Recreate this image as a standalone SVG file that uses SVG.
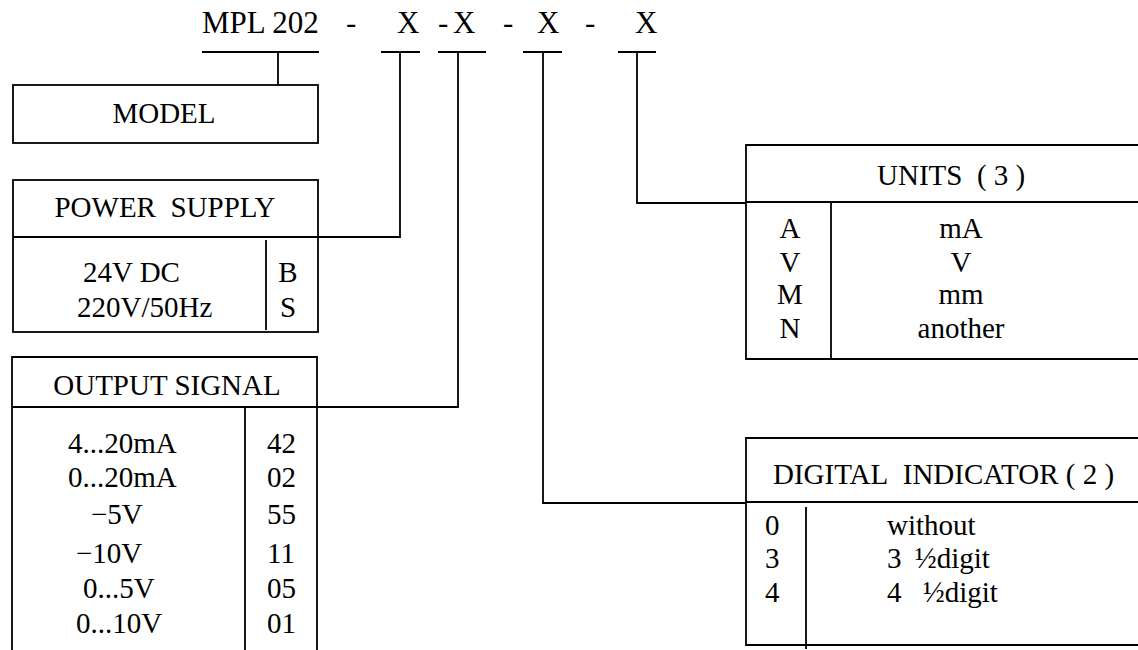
<svg xmlns="http://www.w3.org/2000/svg" width="1138" height="650" viewBox="0 0 1138 650">
<style>
text{font-family:"Liberation Serif","Times New Roman",serif;font-size:29px;fill:#000}
.t{font-size:31px}
.m{text-anchor:middle}
.s{stroke:#000;stroke-width:1.8;fill:none}
</style>
<rect width="1138" height="650" fill="#fff"/>
<g id="title">
<text class="t" x="202" y="33">MPL 202</text>
<text class="t" x="346" y="33">-</text>
<text class="t" x="397" y="33">X</text>
<text class="t" x="438" y="33">-</text>
<text class="t" x="453" y="33">X</text>
<text class="t" x="503" y="33">-</text>
<text class="t" x="537" y="33">X</text>
<text class="t" x="585" y="33">-</text>
<text class="t" x="635" y="33">X</text>
</g>
<g id="connectors" class="s">
<line x1="202" y1="52" x2="319" y2="52"/>
<line x1="381" y1="52" x2="420" y2="52"/>
<line x1="438" y1="52" x2="486" y2="52"/>
<line x1="523" y1="52" x2="562" y2="52"/>
<line x1="618" y1="52" x2="656" y2="52"/>
<line x1="278" y1="52" x2="278" y2="85"/>
<path d="M400 52 V237 H318"/>
<path d="M458 52 V407 H317"/>
<path d="M543 52 V503 H746"/>
<path d="M637 52 V203 H746"/>
</g>
<g id="model">
<rect class="s" x="13" y="85" width="305" height="58"/>
<text class="m" x="164" y="123">MODEL</text>
</g>
<g id="power-supply">
<rect class="s" x="13" y="180" width="305" height="152"/>
<line class="s" x1="13" y1="237" x2="318" y2="237"/>
<line class="s" x1="266" y1="240" x2="266" y2="330"/>
<text class="m" x="165" y="217">POWER&#160; SUPPLY</text>
<text x="83" y="282">24V DC</text>
<text x="77" y="317">220V/50Hz</text>
<text class="m" x="288" y="282">B</text>
<text class="m" x="288" y="317">S</text>
</g>
<g id="output-signal">
<path class="s" d="M12 660 V357 H317 V660"/>
<line class="s" x1="12" y1="407" x2="317" y2="407"/>
<line class="s" x1="245" y1="407" x2="245" y2="660"/>
<text class="m" x="167" y="395">OUTPUT SIGNAL</text>
<text x="68" y="453">4...20mA</text>
<text x="68" y="487">0...20mA</text>
<text x="91" y="524">−5V</text>
<text x="76" y="563">−10V</text>
<text x="83" y="598">0...5V</text>
<text x="76" y="633">0...10V</text>
<text x="267" y="453">42</text>
<text x="267" y="487">02</text>
<text x="267" y="524">55</text>
<text x="267" y="563">11</text>
<text x="267" y="598">05</text>
<text x="267" y="633">01</text>
</g>
<g id="units">
<path class="s" d="M1145 145 H746 V359 H1145"/>
<line class="s" x1="746" y1="202" x2="1145" y2="202"/>
<line class="s" x1="831" y1="202" x2="831" y2="359"/>
<text x="877" y="185">UNITS&#160; ( 3 )</text>
<text class="m" x="790" y="238">A</text>
<text class="m" x="790" y="272">V</text>
<text class="m" x="790" y="304">M</text>
<text class="m" x="790" y="338">N</text>
<text class="m" x="961" y="238">mA</text>
<text class="m" x="961" y="272">V</text>
<text class="m" x="961" y="304">mm</text>
<text class="m" x="961" y="338">another</text>
</g>
<g id="digital-indicator">
<path class="s" d="M1145 438 H746 V645 H1145"/>
<line class="s" x1="746" y1="502" x2="1145" y2="502"/>
<line class="s" x1="806" y1="507" x2="806" y2="649"/>
<text x="773" y="484">DIGITAL&#160; INDICATOR ( 2 )</text>
<text x="765" y="535">0</text>
<text x="765" y="568">3</text>
<text x="765" y="602">4</text>
<text x="887" y="535">without</text>
<text x="887" y="568">3</text>
<text x="915" y="568">½digit</text>
<text x="887" y="602">4</text>
<text x="923" y="602">½digit</text>
</g>
</svg>
